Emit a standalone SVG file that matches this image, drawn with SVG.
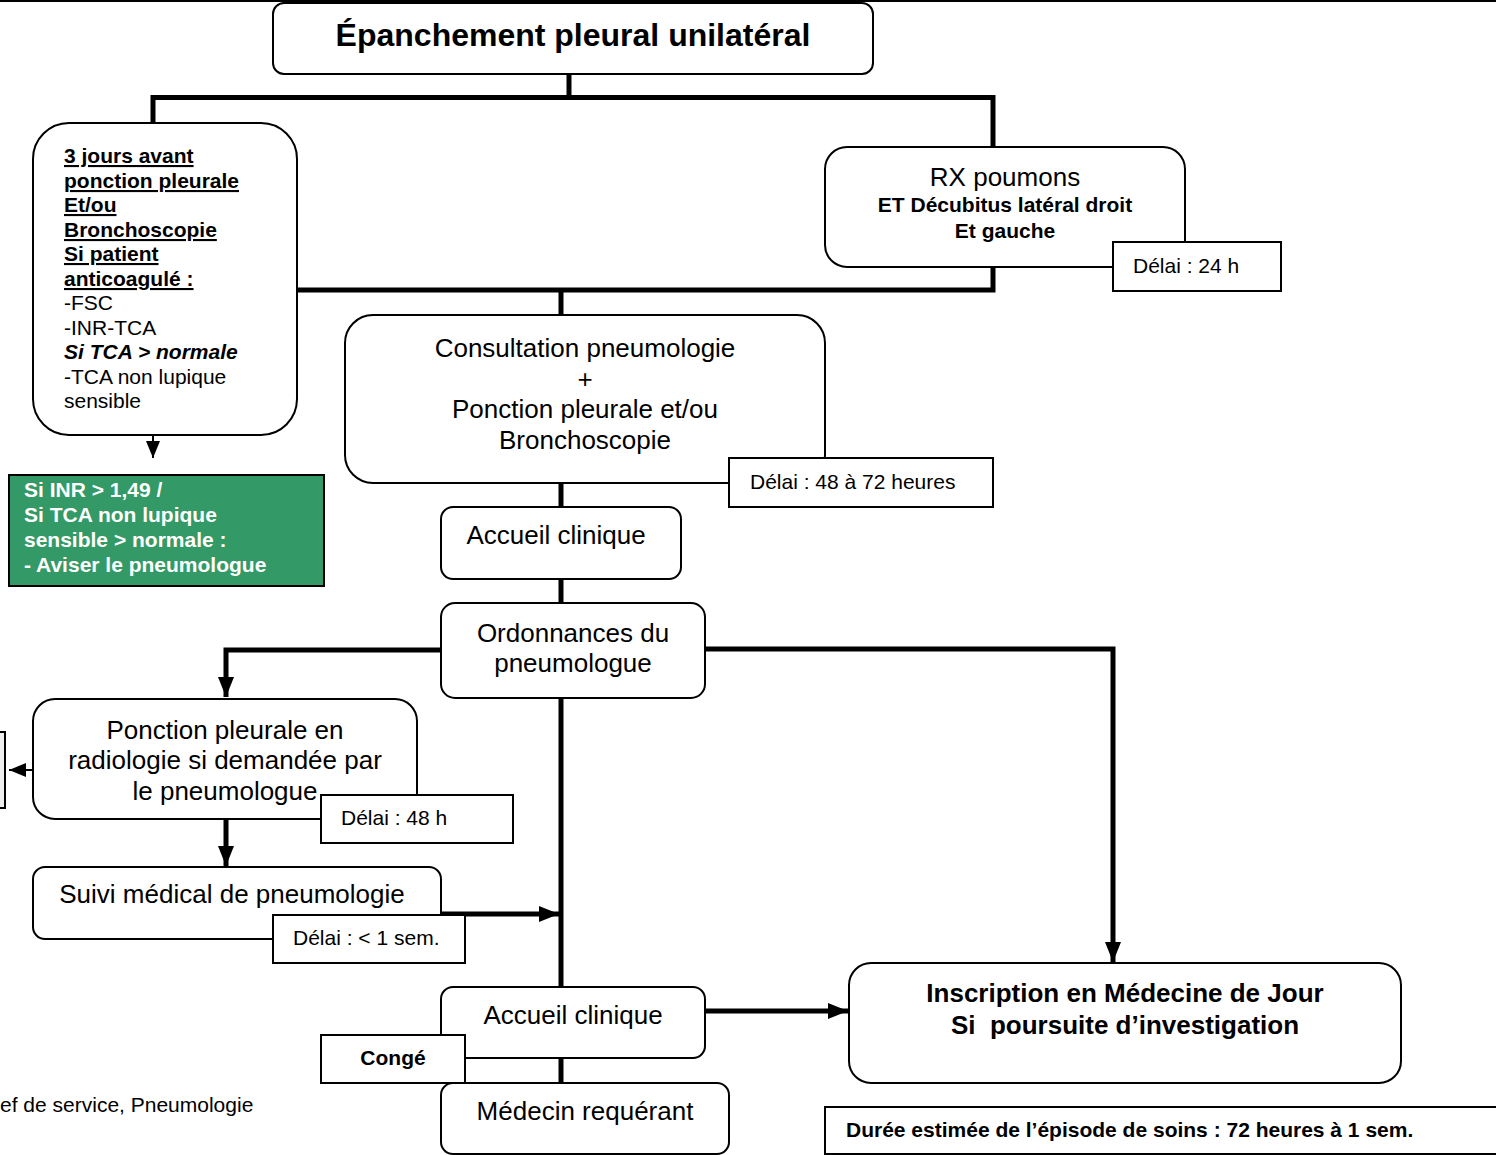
<svg xmlns="http://www.w3.org/2000/svg" width="1496" height="1155" viewBox="0 0 1496 1155">
<defs>
<style>
text{font-family:"Liberation Sans",Arial,sans-serif;fill:#000}
.box{fill:#fff;stroke:#000;stroke-width:2}
.lab{fill:#fff;stroke:#000;stroke-width:2}
.t26{font-size:26px}
.t21{font-size:21px}
.b{font-weight:bold}
.c{text-anchor:middle}
.u{text-decoration:underline}
.thick{fill:none;stroke:#000;stroke-width:5}
.thin{fill:none;stroke:#000;stroke-width:2}
</style>
<marker id="ah" markerUnits="userSpaceOnUse" markerWidth="20" markerHeight="16" refX="20" refY="8" orient="auto"><path d="M0,0 L20,8 L0,16 z" fill="#000"/></marker>
<marker id="ahs" markerUnits="userSpaceOnUse" markerWidth="17" markerHeight="14" refX="17" refY="7" orient="auto"><path d="M0,0 L17,7 L0,14 z" fill="#000"/></marker>
</defs>
<rect width="1496" height="1155" fill="#fff"/>
<line x1="0" y1="1" x2="1496" y2="1" stroke="#000" stroke-width="2"/>

<g id="connectors">
<polyline class="thick" points="569,74 569,97.5"/>
<polyline class="thick" points="153,123 153,97.5 993,97.5 993,147"/>
<polyline class="thick" points="297,290 993,290 993,267"/>
<polyline class="thick" points="561,290 561,315"/>
<polyline class="thick" points="561,483 561,507"/>
<polyline class="thick" points="561,579 561,603"/>
<polyline class="thick" points="441,650 226,650 226,697" marker-end="url(#ah)"/>
<polyline class="thick" points="705,649 1113,649 1113,962" marker-end="url(#ah)"/>
<polyline class="thick" points="561,698 561,987"/>
<polyline class="thick" points="226,819 226,866" marker-end="url(#ah)"/>
<polyline class="thick" points="441,914 559,914" marker-end="url(#ah)"/>
<polyline class="thick" points="705,1011 848,1011" marker-end="url(#ah)"/>
<polyline class="thick" points="561,1058 561,1083"/>
<polyline class="thin" points="153,410 153,458" marker-end="url(#ahs)"/>
<polyline class="thin" points="33,770 9,770" marker-end="url(#ahs)"/>
</g>

<g id="title">
<rect class="box" x="273" y="3" width="600" height="71" rx="11"/>
<text class="b c" x="573" y="46" font-size="32">Épanchement pleural unilatéral</text>
</g>

<g id="prep">
<rect class="box" x="33" y="123" width="264" height="312" rx="36"/>
<text class="t21 b u" x="64" y="163">3 jours avant</text>
<text class="t21 b u" x="64" y="188">ponction pleurale</text>
<text class="t21 b u" x="64" y="212">Et/ou</text>
<text class="t21 b u" x="64" y="237">Bronchoscopie</text>
<text class="t21 b u" x="64" y="261">Si patient</text>
<text class="t21 b u" x="64" y="286">anticoagulé :</text>
<text class="t21" x="64" y="310">-FSC</text>
<text class="t21" x="64" y="335">-INR-TCA</text>
<text class="t21 b" x="64" y="359" font-style="italic">Si TCA &gt; normale</text>
<text class="t21" x="64" y="384">-TCA non lupique</text>
<text class="t21" x="64" y="408">sensible</text>
</g>

<g id="alert">
<rect x="9" y="475" width="315" height="111" fill="#339966" stroke="#000" stroke-width="2"/>
<text class="t21 b" x="24" y="497" style="fill:#fff">Si INR &gt; 1,49 /</text>
<text class="t21 b" x="24" y="522" style="fill:#fff">Si TCA non lupique</text>
<text class="t21 b" x="24" y="547" style="fill:#fff">sensible &gt; normale :</text>
<text class="t21 b" x="24" y="572" style="fill:#fff">- Aviser le pneumologue</text>
</g>

<g id="rx">
<rect class="box" x="825" y="147" width="360" height="120" rx="22"/>
<text class="t26 c" x="1005" y="186">RX poumons</text>
<text class="t21 b c" x="1005" y="212">ET Décubitus latéral droit</text>
<text class="t21 b c" x="1005" y="238">Et gauche</text>
</g>
<g id="delai24">
<rect class="lab" x="1113" y="242" width="168" height="49"/>
<text class="t21" x="1133" y="273">Délai : 24 h</text>
</g>

<g id="consult">
<rect class="box" x="345" y="315" width="480" height="168" rx="28"/>
<text class="t26 c" x="585" y="357">Consultation pneumologie</text>
<text class="t26 c" x="585" y="388">+</text>
<text class="t26 c" x="585" y="418">Ponction pleurale et/ou</text>
<text class="t26 c" x="585" y="449">Bronchoscopie</text>
</g>
<g id="delai4872">
<rect class="lab" x="729" y="458" width="264" height="49"/>
<text class="t21" x="750" y="489">Délai : 48 à 72 heures</text>
</g>

<g id="accueil1">
<rect class="box" x="441" y="507" width="240" height="72" rx="12"/>
<text class="t26 c" x="556" y="544">Accueil clinique</text>
</g>

<g id="ordonnances">
<rect class="box" x="441" y="603" width="264" height="95" rx="14"/>
<text class="t26 c" x="573" y="642">Ordonnances du</text>
<text class="t26 c" x="573" y="672">pneumologue</text>
</g>

<g id="partial">
<rect x="-4" y="732" width="9" height="76" fill="#eeeeee" stroke="#000" stroke-width="2"/>
</g>

<g id="ponction">
<rect class="box" x="33" y="699" width="384" height="120" rx="22"/>
<text class="t26 c" x="225" y="739">Ponction pleurale en</text>
<text class="t26 c" x="225" y="769">radiologie si demandée par</text>
<text class="t26 c" x="225" y="800">le pneumologue</text>
</g>
<g id="delai48">
<rect class="lab" x="321" y="795" width="192" height="48"/>
<text class="t21" x="341" y="825">Délai : 48 h</text>
</g>

<g id="suivi">
<rect class="box" x="33" y="867" width="408" height="72" rx="12"/>
<text class="t26 c" x="232" y="903">Suivi médical de pneumologie</text>
</g>
<g id="delai1sem">
<rect class="lab" x="273" y="915" width="192" height="48"/>
<text class="t21" x="293" y="945">Délai : &lt; 1 sem.</text>
</g>

<g id="accueil2">
<rect class="box" x="441" y="987" width="264" height="71" rx="12"/>
<text class="t26 c" x="573" y="1024">Accueil clinique</text>
</g>
<g id="conge">
<rect class="lab" x="321" y="1035" width="144" height="48"/>
<text class="t21 b c" x="393" y="1065">Congé</text>
</g>

<g id="medecin">
<rect class="box" x="441" y="1083" width="288" height="71" rx="12"/>
<text class="t26 c" x="585" y="1120">Médecin requérant</text>
</g>

<g id="inscription">
<rect class="box" x="849" y="963" width="552" height="120" rx="22"/>
<text class="t26 b c" x="1125" y="1002">Inscription en Médecine de Jour</text>
<text class="t26 b c" x="1125" y="1034" xml:space="preserve">Si  poursuite d’investigation</text>
</g>

<g id="duree">
<rect class="lab" x="825" y="1107" width="700" height="47"/>
<text class="t21 b" x="846" y="1137">Durée estimée de l’épisode de soins : 72 heures à 1 sem.</text>
</g>

<g id="footer">
<text class="t21" x="0" y="1112">ef de service, Pneumologie</text>
</g>
</svg>
